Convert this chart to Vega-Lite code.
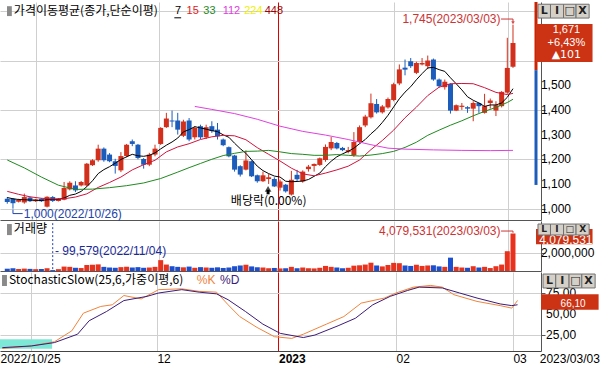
{
"$schema":"https://vega.github.io/schema/vega-lite/v6.json",
"padding":0,"spacing":1,"bounds":"flush","background":"white",
"config":{"view":{"stroke":null},"axis":{"labelOverlap":false}},
"resolve":{"scale":{"x":"independent","y":"independent","color":"independent"}},
"datasets":{
"ohlc":[
{"i":0,"d":"2022/10/25","o":1040,"h":1047,"l":1020,"c":1027,"v":250000},
{"i":1,"d":"2022/10/26","o":1040,"h":1043,"l":1000,"c":1022,"v":300000},
{"i":2,"d":"2022/10/27","o":1028,"h":1040,"l":1025,"c":1035,"v":220000},
{"i":3,"d":"2022/10/28","o":1025,"h":1061,"l":1020,"c":1047,"v":260000},
{"i":4,"d":"2022/10/31","o":1045,"h":1048,"l":1027,"c":1030,"v":230000},
{"i":5,"d":"2022/11/01","o":1030,"h":1040,"l":1027,"c":1037,"v":200000},
{"i":6,"d":"2022/11/02","o":1040,"h":1043,"l":1027,"c":1030,"v":220000},
{"i":7,"d":"2022/11/03","o":1008,"h":1050,"l":1005,"c":1048,"v":300000},
{"i":8,"d":"2022/11/04","o":1047,"h":1051,"l":1027,"c":1031,"v":99579},
{"i":9,"d":"2022/11/07","o":1031,"h":1043,"l":1029,"c":1040,"v":200000},
{"i":10,"d":"2022/11/08","o":1036,"h":1108,"l":1034,"c":1084,"v":480000},
{"i":11,"d":"2022/11/09","o":1078,"h":1111,"l":1074,"c":1105,"v":450000},
{"i":12,"d":"2022/11/10","o":1094,"h":1111,"l":1067,"c":1074,"v":350000},
{"i":13,"d":"2022/11/11","o":1094,"h":1112,"l":1090,"c":1108,"v":320000},
{"i":14,"d":"2022/11/14","o":1094,"h":1185,"l":1090,"c":1182,"v":650000},
{"i":15,"d":"2022/11/15","o":1176,"h":1200,"l":1173,"c":1196,"v":680000},
{"i":16,"d":"2022/11/16","o":1196,"h":1259,"l":1190,"c":1243,"v":720000},
{"i":17,"d":"2022/11/17","o":1243,"h":1248,"l":1190,"c":1196,"v":450000},
{"i":18,"d":"2022/11/18","o":1219,"h":1225,"l":1188,"c":1192,"v":380000},
{"i":19,"d":"2022/11/21","o":1192,"h":1202,"l":1142,"c":1173,"v":350000},
{"i":20,"d":"2022/11/22","o":1155,"h":1229,"l":1148,"c":1213,"v":420000},
{"i":21,"d":"2022/11/23","o":1213,"h":1262,"l":1208,"c":1259,"v":450000},
{"i":22,"d":"2022/11/24","o":1273,"h":1280,"l":1253,"c":1262,"v":380000},
{"i":23,"d":"2022/11/25","o":1259,"h":1262,"l":1200,"c":1205,"v":420000},
{"i":24,"d":"2022/11/28","o":1201,"h":1205,"l":1162,"c":1178,"v":350000},
{"i":25,"d":"2022/11/29","o":1178,"h":1226,"l":1172,"c":1219,"v":380000},
{"i":26,"d":"2022/11/30","o":1219,"h":1259,"l":1212,"c":1243,"v":450000},
{"i":27,"d":"2022/12/01","o":1262,"h":1330,"l":1258,"c":1327,"v":1180000},
{"i":28,"d":"2022/12/02","o":1330,"h":1388,"l":1327,"c":1365,"v":700000},
{"i":29,"d":"2022/12/05","o":1357,"h":1397,"l":1330,"c":1353,"v":520000},
{"i":30,"d":"2022/12/06","o":1357,"h":1388,"l":1300,"c":1320,"v":450000},
{"i":31,"d":"2022/12/07","o":1295,"h":1360,"l":1290,"c":1353,"v":400000},
{"i":32,"d":"2022/12/08","o":1357,"h":1367,"l":1273,"c":1280,"v":480000},
{"i":33,"d":"2022/12/09","o":1289,"h":1334,"l":1280,"c":1327,"v":350000},
{"i":34,"d":"2022/12/12","o":1334,"h":1340,"l":1282,"c":1289,"v":420000},
{"i":35,"d":"2022/12/13","o":1289,"h":1340,"l":1282,"c":1330,"v":380000},
{"i":36,"d":"2022/12/14","o":1334,"h":1354,"l":1307,"c":1314,"v":350000},
{"i":37,"d":"2022/12/15","o":1320,"h":1347,"l":1280,"c":1293,"v":400000},
{"i":38,"d":"2022/12/16","o":1280,"h":1284,"l":1253,"c":1257,"v":330000},
{"i":39,"d":"2022/12/19","o":1249,"h":1252,"l":1208,"c":1212,"v":380000},
{"i":40,"d":"2022/12/20","o":1215,"h":1218,"l":1150,"c":1158,"v":520000},
{"i":41,"d":"2022/12/21","o":1172,"h":1176,"l":1130,"c":1138,"v":600000},
{"i":42,"d":"2022/12/22","o":1158,"h":1236,"l":1155,"c":1195,"v":680000},
{"i":43,"d":"2022/12/23","o":1192,"h":1195,"l":1128,"c":1131,"v":500000},
{"i":44,"d":"2022/12/26","o":1135,"h":1138,"l":1105,"c":1111,"v":420000},
{"i":45,"d":"2022/12/27","o":1111,"h":1150,"l":1108,"c":1135,"v":380000},
{"i":46,"d":"2022/12/28","o":1120,"h":1140,"l":1100,"c":1127,"v":300000},
{"i":47,"d":"2022/12/29","o":1120,"h":1127,"l":1088,"c":1090,"v":330000},
{"i":48,"d":"2023/01/02","o":1085,"h":1118,"l":1073,"c":1110,"v":280000},
{"i":49,"d":"2023/01/03","o":1097,"h":1100,"l":1065,"c":1070,"v":300000},
{"i":50,"d":"2023/01/04","o":1057,"h":1153,"l":1053,"c":1117,"v":450000},
{"i":51,"d":"2023/01/05","o":1137,"h":1157,"l":1110,"c":1119,"v":300000},
{"i":52,"d":"2023/01/06","o":1110,"h":1155,"l":1105,"c":1150,"v":380000},
{"i":53,"d":"2023/01/09","o":1160,"h":1177,"l":1150,"c":1170,"v":300000},
{"i":54,"d":"2023/01/10","o":1173,"h":1183,"l":1150,"c":1181,"v":280000},
{"i":55,"d":"2023/01/11","o":1177,"h":1207,"l":1173,"c":1204,"v":350000},
{"i":56,"d":"2023/01/12","o":1197,"h":1260,"l":1190,"c":1250,"v":550000},
{"i":57,"d":"2023/01/13","o":1244,"h":1290,"l":1237,"c":1270,"v":450000},
{"i":58,"d":"2023/01/16","o":1266,"h":1270,"l":1240,"c":1244,"v":380000},
{"i":59,"d":"2023/01/17","o":1246,"h":1250,"l":1233,"c":1237,"v":300000},
{"i":60,"d":"2023/01/18","o":1230,"h":1250,"l":1224,"c":1237,"v":350000},
{"i":61,"d":"2023/01/19","o":1217,"h":1310,"l":1210,"c":1270,"v":580000},
{"i":62,"d":"2023/01/20","o":1270,"h":1337,"l":1265,"c":1330,"v":620000},
{"i":63,"d":"2023/01/25","o":1337,"h":1380,"l":1330,"c":1373,"v":700000},
{"i":64,"d":"2023/01/26","o":1370,"h":1466,"l":1365,"c":1427,"v":900000},
{"i":65,"d":"2023/01/27","o":1424,"h":1444,"l":1385,"c":1390,"v":600000},
{"i":66,"d":"2023/01/30","o":1390,"h":1420,"l":1385,"c":1414,"v":500000},
{"i":67,"d":"2023/01/31","o":1410,"h":1450,"l":1405,"c":1444,"v":650000},
{"i":68,"d":"2023/02/01","o":1440,"h":1510,"l":1435,"c":1504,"v":880000},
{"i":69,"d":"2023/02/02","o":1507,"h":1584,"l":1500,"c":1564,"v":850000},
{"i":70,"d":"2023/02/03","o":1571,"h":1604,"l":1540,"c":1563,"v":600000},
{"i":71,"d":"2023/02/06","o":1597,"h":1610,"l":1570,"c":1577,"v":550000},
{"i":72,"d":"2023/02/07","o":1550,"h":1595,"l":1545,"c":1590,"v":680000},
{"i":73,"d":"2023/02/08","o":1584,"h":1610,"l":1580,"c":1590,"v":550000},
{"i":74,"d":"2023/02/09","o":1577,"h":1620,"l":1565,"c":1600,"v":600000},
{"i":75,"d":"2023/02/10","o":1604,"h":1608,"l":1518,"c":1523,"v":620000},
{"i":76,"d":"2023/02/13","o":1523,"h":1527,"l":1490,"c":1496,"v":500000},
{"i":77,"d":"2023/02/14","o":1492,"h":1523,"l":1482,"c":1514,"v":450000},
{"i":78,"d":"2023/02/15","o":1505,"h":1508,"l":1385,"c":1397,"v":1450000},
{"i":79,"d":"2023/02/16","o":1397,"h":1422,"l":1395,"c":1419,"v":450000},
{"i":80,"d":"2023/02/17","o":1412,"h":1428,"l":1400,"c":1417,"v":380000},
{"i":81,"d":"2023/02/20","o":1411,"h":1415,"l":1388,"c":1405,"v":350000},
{"i":82,"d":"2023/02/21","o":1405,"h":1435,"l":1354,"c":1428,"v":520000},
{"i":83,"d":"2023/02/22","o":1428,"h":1430,"l":1388,"c":1415,"v":380000},
{"i":84,"d":"2023/02/23","o":1388,"h":1465,"l":1385,"c":1415,"v":450000},
{"i":85,"d":"2023/02/24","o":1428,"h":1446,"l":1405,"c":1438,"v":320000},
{"i":86,"d":"2023/02/27","o":1397,"h":1435,"l":1375,"c":1419,"v":520000},
{"i":87,"d":"2023/02/28","o":1415,"h":1476,"l":1410,"c":1473,"v":700000},
{"i":88,"d":"2023/03/02","o":1470,"h":1692,"l":1465,"c":1570,"v":2150000},
{"i":89,"d":"2023/03/03","o":1575,"h":1745,"l":1570,"c":1671,"v":4079531}
],
"ma":[
{"i":0,"s":"7","v":1045},{"i":1,"s":"7","v":1040},{"i":2,"s":"7","v":1037},{"i":3,"s":"7","v":1036},{"i":4,"s":"7","v":1035},{"i":5,"s":"7","v":1034},{"i":6,"s":"7","v":1033},{"i":7,"s":"7","v":1036},{"i":8,"s":"7","v":1037},{"i":9,"s":"7","v":1038},
{"i":10,"s":"7","v":1043},{"i":11,"s":"7","v":1054},{"i":12,"s":"7","v":1059},{"i":13,"s":"7","v":1070},{"i":14,"s":"7","v":1089},{"i":15,"s":"7","v":1113},{"i":16,"s":"7","v":1142},{"i":17,"s":"7","v":1158},{"i":18,"s":"7","v":1170},{"i":19,"s":"7","v":1184},
{"i":20,"s":"7","v":1199},{"i":21,"s":"7","v":1210},{"i":22,"s":"7","v":1220},{"i":23,"s":"7","v":1214},{"i":24,"s":"7","v":1212},{"i":25,"s":"7","v":1216},{"i":26,"s":"7","v":1226},{"i":27,"s":"7","v":1242},{"i":28,"s":"7","v":1257},{"i":29,"s":"7","v":1270},
{"i":30,"s":"7","v":1286},{"i":31,"s":"7","v":1311},{"i":32,"s":"7","v":1320},{"i":33,"s":"7","v":1332},{"i":34,"s":"7","v":1327},{"i":35,"s":"7","v":1322},{"i":36,"s":"7","v":1316},{"i":37,"s":"7","v":1312},{"i":38,"s":"7","v":1299},{"i":39,"s":"7","v":1289},
{"i":40,"s":"7","v":1265},{"i":41,"s":"7","v":1243},{"i":42,"s":"7","v":1224},{"i":43,"s":"7","v":1198},{"i":44,"s":"7","v":1172},{"i":45,"s":"7","v":1154},{"i":46,"s":"7","v":1142},{"i":47,"s":"7","v":1132},{"i":48,"s":"7","v":1128},{"i":49,"s":"7","v":1111},
{"i":50,"s":"7","v":1109},{"i":51,"s":"7","v":1110},{"i":52,"s":"7","v":1112},{"i":53,"s":"7","v":1118},{"i":54,"s":"7","v":1131},{"i":55,"s":"7","v":1144},{"i":56,"s":"7","v":1170},{"i":57,"s":"7","v":1192},{"i":58,"s":"7","v":1210},{"i":59,"s":"7","v":1222},
{"i":60,"s":"7","v":1232},{"i":61,"s":"7","v":1245},{"i":62,"s":"7","v":1263},{"i":63,"s":"7","v":1280},{"i":64,"s":"7","v":1303},{"i":65,"s":"7","v":1323},{"i":66,"s":"7","v":1349},{"i":67,"s":"7","v":1378},{"i":68,"s":"7","v":1412},{"i":69,"s":"7","v":1445},
{"i":70,"s":"7","v":1472},{"i":71,"s":"7","v":1494},{"i":72,"s":"7","v":1522},{"i":73,"s":"7","v":1547},{"i":74,"s":"7","v":1570},{"i":75,"s":"7","v":1572},{"i":76,"s":"7","v":1563},{"i":77,"s":"7","v":1556},{"i":78,"s":"7","v":1530},{"i":79,"s":"7","v":1506},
{"i":80,"s":"7","v":1481},{"i":81,"s":"7","v":1453},{"i":82,"s":"7","v":1439},{"i":83,"s":"7","v":1428},{"i":84,"s":"7","v":1414},{"i":85,"s":"7","v":1420},{"i":86,"s":"7","v":1420},{"i":87,"s":"7","v":1428},{"i":88,"s":"7","v":1451},{"i":89,"s":"7","v":1486},
{"i":0,"s":"15","v":1070},{"i":2,"s":"15","v":1058},{"i":4,"s":"15","v":1048},{"i":6,"s":"15","v":1042},{"i":8,"s":"15","v":1039},{"i":10,"s":"15","v":1040},{"i":12,"s":"15","v":1047},{"i":14,"s":"15","v":1060},{"i":16,"s":"15","v":1086},{"i":18,"s":"15","v":1106},
{"i":20,"s":"15","v":1128},{"i":22,"s":"15","v":1157},{"i":24,"s":"15","v":1178},{"i":26,"s":"15","v":1196},{"i":28,"s":"15","v":1230},{"i":30,"s":"15","v":1250},{"i":32,"s":"15","v":1263},{"i":34,"s":"15","v":1280},{"i":36,"s":"15","v":1291},{"i":38,"s":"15","v":1297},
{"i":40,"s":"15","v":1295},{"i":42,"s":"15","v":1279},{"i":44,"s":"15","v":1247},{"i":46,"s":"15","v":1220},{"i":48,"s":"15","v":1193},{"i":50,"s":"15","v":1164},{"i":52,"s":"15","v":1141},{"i":54,"s":"15","v":1133},{"i":56,"s":"15","v":1144},{"i":58,"s":"15","v":1157},
{"i":60,"s":"15","v":1172},{"i":62,"s":"15","v":1197},{"i":64,"s":"15","v":1239},{"i":66,"s":"15","v":1276},{"i":68,"s":"15","v":1318},{"i":70,"s":"15","v":1368},{"i":72,"s":"15","v":1411},{"i":74,"s":"15","v":1458},{"i":76,"s":"15","v":1492},{"i":78,"s":"15","v":1506},
{"i":80,"s":"15","v":1507},{"i":82,"s":"15","v":1506},{"i":84,"s":"15","v":1490},{"i":86,"s":"15","v":1471},{"i":88,"s":"15","v":1462},{"i":89,"s":"15","v":1467},
{"i":0,"s":"33","v":1197},{"i":3,"s":"33","v":1165},{"i":6,"s":"33","v":1128},{"i":9,"s":"33","v":1095},{"i":12,"s":"33","v":1078},{"i":15,"s":"33","v":1079},{"i":18,"s":"33","v":1085},{"i":21,"s":"33","v":1093},{"i":24,"s":"33","v":1104},{"i":27,"s":"33","v":1122},
{"i":30,"s":"33","v":1148},{"i":32,"s":"33","v":1166},{"i":34,"s":"33","v":1183},{"i":36,"s":"33","v":1200},{"i":38,"s":"33","v":1215},{"i":40,"s":"33","v":1224},{"i":42,"s":"33","v":1232},{"i":44,"s":"33","v":1233},{"i":46,"s":"33","v":1236},{"i":48,"s":"33","v":1230},
{"i":50,"s":"33","v":1223},{"i":52,"s":"33","v":1220},{"i":54,"s":"33","v":1216},{"i":56,"s":"33","v":1216},{"i":58,"s":"33","v":1219},{"i":60,"s":"33","v":1216},{"i":62,"s":"33","v":1213},{"i":64,"s":"33","v":1217},{"i":66,"s":"33","v":1223},{"i":68,"s":"33","v":1232},
{"i":70,"s":"33","v":1248},{"i":72,"s":"33","v":1269},{"i":74,"s":"33","v":1297},{"i":76,"s":"33","v":1318},{"i":78,"s":"33","v":1338},{"i":80,"s":"33","v":1356},{"i":82,"s":"33","v":1376},{"i":84,"s":"33","v":1394},{"i":86,"s":"33","v":1410},{"i":88,"s":"33","v":1430},{"i":89,"s":"33","v":1443},
{"i":33,"s":"112","v":1414},{"i":36,"s":"112","v":1402},{"i":40,"s":"112","v":1385},{"i":44,"s":"112","v":1362},{"i":48,"s":"112","v":1334},{"i":52,"s":"112","v":1313},{"i":56,"s":"112","v":1298},{"i":60,"s":"112","v":1280},{"i":64,"s":"112","v":1259},{"i":67,"s":"112","v":1245},
{"i":70,"s":"112","v":1241},{"i":75,"s":"112","v":1238},{"i":80,"s":"112","v":1236},{"i":85,"s":"112","v":1235},{"i":89,"s":"112","v":1236}
],
"st":[
{"i":0,"s":"K","val":9},{"i":5,"s":"K","val":12},{"i":9,"s":"K","val":17},{"i":12,"s":"K","val":30},{"i":14,"s":"K","val":51},{"i":17,"s":"K","val":59},{"i":19,"s":"K","val":61},{"i":21,"s":"K","val":72},{"i":24,"s":"K","val":68},{"i":27,"s":"K","val":79},
{"i":31,"s":"K","val":80},{"i":34,"s":"K","val":77},{"i":37,"s":"K","val":76},{"i":39,"s":"K","val":61},{"i":41,"s":"K","val":47},{"i":44,"s":"K","val":34},{"i":47,"s":"K","val":23},{"i":50,"s":"K","val":21},{"i":52,"s":"K","val":26},{"i":56,"s":"K","val":38},
{"i":59,"s":"K","val":47},{"i":62,"s":"K","val":63},{"i":66,"s":"K","val":69},{"i":68,"s":"K","val":75},{"i":71,"s":"K","val":82},{"i":74,"s":"K","val":84},{"i":76,"s":"K","val":82},{"i":78,"s":"K","val":73},{"i":82,"s":"K","val":65},{"i":86,"s":"K","val":60},{"i":88,"s":"K","val":57},{"i":89,"s":"K","val":66.1},
{"i":0,"s":"D","val":10},{"i":5,"s":"D","val":12},{"i":9,"s":"D","val":16},{"i":13,"s":"D","val":26},{"i":15,"s":"D","val":42},{"i":18,"s":"D","val":53},{"i":21,"s":"D","val":66},{"i":25,"s":"D","val":71},{"i":27,"s":"D","val":75},{"i":31,"s":"D","val":79},
{"i":34,"s":"D","val":76},{"i":37,"s":"D","val":74},{"i":39,"s":"D","val":67},{"i":42,"s":"D","val":53},{"i":45,"s":"D","val":38},{"i":48,"s":"D","val":27},{"i":52,"s":"D","val":22},{"i":54,"s":"D","val":25},{"i":58,"s":"D","val":36},{"i":61,"s":"D","val":45},
{"i":64,"s":"D","val":61},{"i":67,"s":"D","val":71},{"i":70,"s":"D","val":78},{"i":72,"s":"D","val":82},{"i":76,"s":"D","val":81},{"i":79,"s":"D","val":75},{"i":82,"s":"D","val":69},{"i":86,"s":"D","val":62},{"i":88,"s":"D","val":60},{"i":89,"s":"D","val":61}
],
"kd":[
{"i":68.3,"k":76,"d":76},{"i":70,"k":79.3,"d":78},{"i":71,"k":82,"d":80},{"i":72,"k":82.7,"d":82},{"i":74,"k":84,"d":81.8},{"i":76,"k":82,"d":81},{"i":77,"k":77.5,"d":77.5}
],
"btn":[{"i":93.4,"i2":95.6,"m":94.5,"t":"L"},{"i":95.6,"i2":97.9,"m":96.75,"t":"I"},{"i":97.9,"i2":100.1,"m":99,"t":"□"},{"i":100.1,"i2":102.4,"m":101.25,"t":"X"}]
},
"vconcat":[
{
"width":541,"height":218,
"layer":[
{"data":{"name":"ohlc"},"mark":{"type":"rule","strokeWidth":1},
 "encoding":{
  "x":{"field":"i","type":"quantitative","scale":{"domain":[-0.4,93.05],"nice":false,"zero":false},
   "axis":{"values":[5,26.7,47.7,68,88.2],"grid":true,"gridColor":{"condition":{"test":"datum.value == 47.7","value":"#e00000"},"value":"#cfcfcf"},"labels":false,"ticks":false,"domain":true,"domainColor":"#555","title":null}},
  "y":{"field":"l","type":"quantitative","scale":{"domain":[954,1837],"nice":false,"zero":false},
   "axis":{"orient":"right","values":[1000,1100,1200,1300,1400,1500,1600,1700,1800],"labels":false,"grid":true,"gridColor":"#cfcfcf","domainColor":"#555","tickColor":"#555","tickSize":4,"title":null}},
  "y2":{"field":"h"},
  "color":{"condition":{"test":"datum.c >= datum.o","value":"#d2301c"},"value":"#1c5dbc"}}},
{"data":{"name":"ohlc"},"mark":{"type":"bar","size":5,"orient":"vertical"},
 "encoding":{"x":{"field":"i","type":"quantitative"},"y":{"field":"o","type":"quantitative"},"y2":{"field":"c"},
  "color":{"condition":{"test":"datum.c >= datum.o","value":"#d2301c"},"value":"#1c5dbc"}}},
{"data":{"name":"ma"},"mark":{"type":"line","strokeWidth":1},
 "encoding":{"x":{"field":"i","type":"quantitative"},"y":{"field":"v","type":"quantitative"},
  "color":{"field":"s","type":"nominal","scale":{"domain":["7","15","33","112"],"range":["#000000","#d0143c","#1f8a1f","#e040e0"]},"legend":null},
  "order":{"field":"i"}}},
{"data":{"values":[{"p":1000},{"p":1100},{"p":1200},{"p":1300},{"p":1400},{"p":1500}]},"mark":{"type":"text","align":"left","baseline":"middle","font":"Liberation Sans","fontSize":12,"color":"#000"},
 "encoding":{"x":{"datum":93.92},"y":{"field":"p","type":"quantitative"},"text":{"field":"p","type":"quantitative","format":",d"}}},
{"data":{"values":[{"a":1561,"b":1837}]},"mark":{"type":"rule","strokeWidth":3,"color":"#cc2200"},
 "encoding":{"x":{"datum":93.05},"y":{"field":"a","type":"quantitative"},"y2":{"field":"b"}}},
{"data":{"values":[{"a":1096,"b":1561}]},"mark":{"type":"rule","strokeWidth":3,"color":"#1c5dbc"},
 "encoding":{"x":{"datum":93.05},"y":{"field":"a","type":"quantitative"},"y2":{"field":"b"}}},
{"data":{"values":[{"t":"icon"}]},"mark":{"type":"rect","color":"#8a8a8a"},
 "encoding":{"x":{"datum":-0.05},"x2":{"datum":0.8},"y":{"datum":1820},"y2":{"datum":1780}}},
{"data":{"values":[{"t":"가격이동평균(종가,단순이평)"}]},"mark":{"type":"text","align":"left","baseline":"middle","font":"Noto Sans CJK KR","fontSize":12,"color":"#000"},
 "encoding":{"x":{"datum":1.16},"y":{"datum":1800},"text":{"field":"t"}}},
{"data":{"values":[{"t":"7"}]},"mark":{"type":"text","align":"left","baseline":"middle","font":"Liberation Sans","fontSize":11,"color":"#000"},
 "encoding":{"x":{"datum":29.5},"y":{"datum":1800},"text":{"field":"t"}}},
{"data":{"values":[{"a":29.4,"b":30.6}]},"mark":{"type":"rule","color":"#000"},
 "encoding":{"x":{"field":"a","type":"quantitative"},"x2":{"field":"b"},"y":{"datum":1773}}},
{"data":{"values":[{"t":"15"}]},"mark":{"type":"text","align":"left","baseline":"middle","font":"Liberation Sans","fontSize":11,"color":"#e02020"},
 "encoding":{"x":{"datum":31.55},"y":{"datum":1800},"text":{"field":"t"}}},
{"data":{"values":[{"t":"33"}]},"mark":{"type":"text","align":"left","baseline":"middle","font":"Liberation Sans","fontSize":11,"color":"#1f8a1f"},
 "encoding":{"x":{"datum":34.5},"y":{"datum":1800},"text":{"field":"t"}}},
{"data":{"values":[{"t":"112"}]},"mark":{"type":"text","align":"left","baseline":"middle","font":"Liberation Sans","fontSize":11,"color":"#e040e0"},
 "encoding":{"x":{"datum":37.9},"y":{"datum":1800},"text":{"field":"t"}}},
{"data":{"values":[{"t":"224"}]},"mark":{"type":"text","align":"left","baseline":"middle","font":"Liberation Sans","fontSize":11,"color":"#f0f000"},
 "encoding":{"x":{"datum":41.7},"y":{"datum":1800},"text":{"field":"t"}}},
{"data":{"values":[{"t":"448"}]},"mark":{"type":"text","align":"left","baseline":"middle","font":"Liberation Sans","fontSize":11,"color":"#a00000"},
 "encoding":{"x":{"datum":45.3},"y":{"datum":1800},"text":{"field":"t"}}},
{"data":{"values":[{"t":"1,745(2023/03/03)"}]},"mark":{"type":"text","align":"right","baseline":"middle","font":"Liberation Sans","fontSize":12,"color":"#cc3333"},
 "encoding":{"x":{"datum":86.8},"y":{"datum":1768},"text":{"field":"t"}}},
{"data":{"values":[{"a":86.9,"b":89,"p":1768,"q":1768},{"a":89,"b":89,"p":1768,"q":1752}]},"mark":{"type":"rule","color":"#cc3333"},
 "encoding":{"x":{"field":"a","type":"quantitative"},"x2":{"field":"b"},"y":{"field":"p","type":"quantitative"},"y2":{"field":"q"}}},
{"data":{"values":[{"t":"v"}]},"mark":{"type":"point","shape":"triangle-down","filled":true,"size":14,"color":"#cc3333"},
 "encoding":{"x":{"datum":89},"y":{"datum":1752}}},
{"data":{"values":[{"a":1,"b":1,"p":996,"q":980},{"a":1,"b":2.7,"p":980,"q":980}]},"mark":{"type":"rule","color":"#2244aa"},
 "encoding":{"x":{"field":"a","type":"quantitative"},"x2":{"field":"b"},"y":{"field":"p","type":"quantitative"},"y2":{"field":"q"}}},
{"data":{"values":[{"t":"1,000(2022/10/26)"}]},"mark":{"type":"text","align":"left","baseline":"middle","font":"Liberation Sans","fontSize":12,"color":"#2244aa"},
 "encoding":{"x":{"datum":2.9},"y":{"datum":980},"text":{"field":"t"}}},
{"data":{"values":[{"t":"배당락(0.00%)"}]},"mark":{"type":"text","align":"center","baseline":"middle","font":"Noto Sans CJK KR","fontSize":12,"color":"#000"},
 "encoding":{"x":{"datum":46},"y":{"datum":1030},"text":{"field":"t"}}},
{"data":{"values":[{"a":1058,"b":1076}]},"mark":{"type":"rule","strokeWidth":3,"color":"#000"},
 "encoding":{"x":{"datum":45.9},"y":{"field":"a","type":"quantitative"},"y2":{"field":"b"}}},
{"data":{"values":[{"t":"head"}]},"mark":{"type":"point","shape":"triangle-up","filled":true,"size":45,"color":"#000"},
 "encoding":{"x":{"datum":45.9},"y":{"datum":1080}}},
{"data":{"values":[{"t":"b"}]},"mark":{"type":"rect","color":"#cc3314"},
 "encoding":{"x":{"datum":93.05},"x2":{"datum":103.0},"y":{"datum":1594},"y2":{"datum":1748}}},
{"data":{"values":[{"t":"1,671"}]},"mark":{"type":"text","align":"center","baseline":"middle","font":"Liberation Sans","fontSize":11,"color":"#ffffff"},
 "encoding":{"x":{"datum":98.4},"y":{"datum":1722},"text":{"field":"t"}}},
{"data":{"values":[{"t":"+6,43%"}]},"mark":{"type":"text","align":"center","baseline":"middle","font":"Liberation Sans","fontSize":11,"color":"#ffffff"},
 "encoding":{"x":{"datum":98.4},"y":{"datum":1671},"text":{"field":"t"}}},
{"data":{"values":[{"t":"▲101"}]},"mark":{"type":"text","align":"center","baseline":"middle","font":"DejaVu Sans","fontSize":11,"color":"#ffffff"},
 "encoding":{"x":{"datum":98.4},"y":{"datum":1622},"text":{"field":"t"}}},
{"data":{"name":"btn"},"mark":{"type":"rect","fill":"#d4d0c8","stroke":"#707070","strokeWidth":1},
 "encoding":{"x":{"field":"i","type":"quantitative"},"x2":{"field":"i2"},"y":{"datum":1772},"y2":{"datum":1828}}},
{"data":{"name":"btn"},"mark":{"type":"text","align":"center","baseline":"middle","font":"DejaVu Sans","fontSize":11,"fontWeight":"bold","color":"#222"},
 "encoding":{"x":{"field":"m","type":"quantitative"},"y":{"datum":1800},"text":{"field":"t"}}}
]
},
{
"width":541,"height":50,
"layer":[
{"data":{"name":"ohlc"},"mark":{"type":"bar","size":5,"orient":"vertical"},
 "encoding":{
  "x":{"field":"i","type":"quantitative","scale":{"domain":[-0.4,93.05],"nice":false,"zero":false},
   "axis":{"values":[5,26.7,47.7,68,88.2],"grid":true,"gridColor":{"condition":{"test":"datum.value == 47.7","value":"#e00000"},"value":"#cfcfcf"},"labels":false,"ticks":false,"domain":true,"domainColor":"#555","title":null}},
  "y":{"field":"v","type":"quantitative","scale":{"domain":[0,5430000],"nice":false,"zero":true},
   "axis":{"orient":"right","values":[2000000],"labels":false,"grid":true,"gridColor":"#cfcfcf","domainColor":"#555","tickColor":"#555","tickSize":4,"title":null}},
  "color":{"condition":{"test":"datum.c >= datum.o","value":"#e8321e"},"value":"#1c4fd0"}}},
{"data":{"values":[{"p":2000000}]},"mark":{"type":"text","align":"left","baseline":"middle","font":"Liberation Sans","fontSize":12,"color":"#000"},
 "encoding":{"x":{"datum":93.92},"y":{"field":"p","type":"quantitative"},"text":{"field":"p","type":"quantitative","format":",d"}}},
{"data":{"values":[{"t":"icon"}]},"mark":{"type":"rect","color":"#8a8a8a"},
 "encoding":{"x":{"datum":-0.05},"x2":{"datum":0.8},"y":{"datum":5100000},"y2":{"datum":3900000}}},
{"data":{"values":[{"t":"거래량"}]},"mark":{"type":"text","align":"left","baseline":"middle","font":"Noto Sans CJK KR","fontSize":12,"color":"#000"},
 "encoding":{"x":{"datum":1.16},"y":{"datum":4560000},"text":{"field":"t"}}},
{"data":{"values":[{"a":5200000,"b":150000}]},"mark":{"type":"rule","color":"#2040b0","strokeDash":[2,2]},
 "encoding":{"x":{"datum":8},"y":{"field":"a","type":"quantitative"},"y2":{"field":"b"}}},
{"data":{"values":[{"t":"- 99,579(2022/11/04)"}]},"mark":{"type":"text","align":"left","baseline":"middle","font":"Liberation Sans","fontSize":12,"color":"#1a2a9a"},
 "encoding":{"x":{"datum":8.4},"y":{"datum":2120000},"text":{"field":"t"}}},
{"data":{"values":[{"t":"4,079,531(2023/03/03)"}]},"mark":{"type":"text","align":"right","baseline":"middle","font":"Liberation Sans","fontSize":12,"color":"#cc3333"},
 "encoding":{"x":{"datum":86.8},"y":{"datum":4340000},"text":{"field":"t"}}},
{"data":{"values":[{"a":86.9,"b":89,"p":4340000,"q":4340000},{"a":89,"b":89,"p":4340000,"q":4150000}]},"mark":{"type":"rule","color":"#cc3333"},
 "encoding":{"x":{"field":"a","type":"quantitative"},"x2":{"field":"b"},"y":{"field":"p","type":"quantitative"},"y2":{"field":"q"}}},
{"data":{"values":[{"t":"b"}]},"mark":{"type":"rect","color":"#cc3314"},
 "encoding":{"x":{"datum":93.05},"x2":{"datum":103.0},"y":{"datum":2900000},"y2":{"datum":4560000}}},
{"data":{"values":[{"t":"4,079,531"}]},"mark":{"type":"text","align":"center","baseline":"middle","font":"Liberation Sans","fontSize":12,"color":"#ffffff"},
 "encoding":{"x":{"datum":98.3},"y":{"datum":3400000},"text":{"field":"t"}}},
{"data":{"name":"btn"},"mark":{"type":"rect","fill":"#d4d0c8","stroke":"#707070","strokeWidth":1},
 "encoding":{"x":{"field":"i","type":"quantitative"},"x2":{"field":"i2"},"y":{"datum":3910000},"y2":{"datum":5100000}}},
{"data":{"name":"btn"},"mark":{"type":"text","align":"center","baseline":"middle","font":"DejaVu Sans","fontSize":9,"fontWeight":"bold","color":"#222"},
 "encoding":{"x":{"field":"m","type":"quantitative"},"y":{"datum":4540000},"text":{"field":"t"}}}
]
},
{
"width":541,"height":79,
"layer":[
{"data":{"values":[{"t":"zone"}]},"mark":{"type":"rect","color":"#7ee8d6"},
 "encoding":{
  "x":{"datum":-0.4,"type":"quantitative","scale":{"domain":[-0.4,93.05],"nice":false,"zero":false},
   "axis":{"values":[-0.4,5,26.7,47.7,68,88.2,92.75],
    "labelExpr":"datum.value < 0 ? '2022/10/25' : datum.value == 26.7 ? '12' : datum.value == 47.7 ? '2023' : datum.value == 68 ? '02' : datum.value == 88.2 ? '03' : datum.value > 92 ? '2023/03/03' : ''",
    "labelAlign":"left","labelFontWeight":{"condition":{"test":"datum.value == 47.7","value":"bold"},"value":"normal"},
    "grid":true,"gridColor":{"condition":{"test":"datum.value == 47.7","value":"#e00000"},"value":"#cfcfcf"},
    "gridOpacity":{"condition":{"test":"datum.value < 0 || datum.value > 92","value":0},"value":1},
    "ticks":false,"domain":true,"domainColor":"#444","labelPadding":2,"labelFontSize":12,"labelFont":"Liberation Sans","labelColor":"#000","labelOverlap":false,"labelBound":false,"labelFlush":false,"title":null}},
  "x2":{"datum":8.6},
  "y":{"datum":8.7,"type":"quantitative","scale":{"domain":[6,100],"nice":false,"zero":false},
   "axis":{"orient":"right","values":[25,50,75],"labels":false,"grid":true,"gridColor":"#cfcfcf","domainColor":"#555","tickColor":"#555","tickSize":4,"title":null}},
  "y2":{"datum":20}}},
{"data":{"values":[{"p":25,"t":"25,00"},{"p":50,"t":"50,00"},{"p":75,"t":"75,00"}]},"mark":{"type":"text","align":"left","baseline":"middle","font":"Liberation Sans","fontSize":12,"color":"#000"},
 "encoding":{"x":{"datum":93.92},"y":{"field":"p","type":"quantitative"},"text":{"field":"t"}}},
{"data":{"name":"kd"},"mark":{"type":"area","color":"#f7b27a","opacity":0.9},
 "encoding":{"x":{"field":"i","type":"quantitative"},"y":{"field":"k","type":"quantitative"},"y2":{"field":"d"}}},
{"data":{"name":"st"},"mark":{"type":"line","strokeWidth":1},
 "encoding":{"x":{"field":"i","type":"quantitative"},"y":{"field":"val","type":"quantitative"},
  "color":{"field":"s","type":"nominal","scale":{"domain":["K","D"],"range":["#f0843c","#3d1b7a"]},"legend":null},
  "order":{"field":"i"}}},
{"data":{"values":[{"t":"icon"}]},"mark":{"type":"rect","color":"#8a8a8a"},
 "encoding":{"x":{"datum":-0.05},"x2":{"datum":0.8},"y":{"datum":96.4},"y2":{"datum":83.3}}},
{"data":{"values":[{"t":"StochasticSlow(25,6,가중이평,6)"}]},"mark":{"type":"text","align":"left","baseline":"middle","font":"Noto Sans CJK KR","fontSize":12,"color":"#000"},
 "encoding":{"x":{"datum":1.16},"y":{"datum":90.5},"text":{"field":"t"}}},
{"data":{"values":[{"t":"%K"}]},"mark":{"type":"text","align":"left","baseline":"middle","font":"Liberation Sans","fontSize":12,"color":"#f0843c"},
 "encoding":{"x":{"datum":33.6},"y":{"datum":90.5},"text":{"field":"t"}}},
{"data":{"values":[{"t":"%D"}]},"mark":{"type":"text","align":"left","baseline":"middle","font":"Liberation Sans","fontSize":12,"color":"#3d1b7a"},
 "encoding":{"x":{"datum":37.6},"y":{"datum":90.5},"text":{"field":"t"}}},
{"data":{"values":[{"t":"b"}]},"mark":{"type":"rect","color":"#cc3314"},
 "encoding":{"x":{"datum":93.05},"x2":{"datum":103.0},"y":{"datum":55},"y2":{"datum":73.5}}},
{"data":{"values":[{"t":"66,10"}]},"mark":{"type":"text","align":"center","baseline":"middle","font":"Liberation Sans","fontSize":10,"color":"#ffffff"},
 "encoding":{"x":{"datum":98.6},"y":{"datum":62.5},"text":{"field":"t"}}},
{"data":{"name":"btn"},"mark":{"type":"rect","fill":"#d4d0c8","stroke":"#707070","strokeWidth":1},
 "encoding":{"x":{"field":"i","type":"quantitative"},"x2":{"field":"i2"},"y":{"datum":81},"y2":{"datum":97.6}}},
{"data":{"name":"btn"},"mark":{"type":"text","align":"center","baseline":"middle","font":"DejaVu Sans","fontSize":11,"fontWeight":"bold","color":"#222"},
 "encoding":{"x":{"field":"m","type":"quantitative"},"y":{"datum":89.3},"text":{"field":"t"}}}
]
}
]
}
